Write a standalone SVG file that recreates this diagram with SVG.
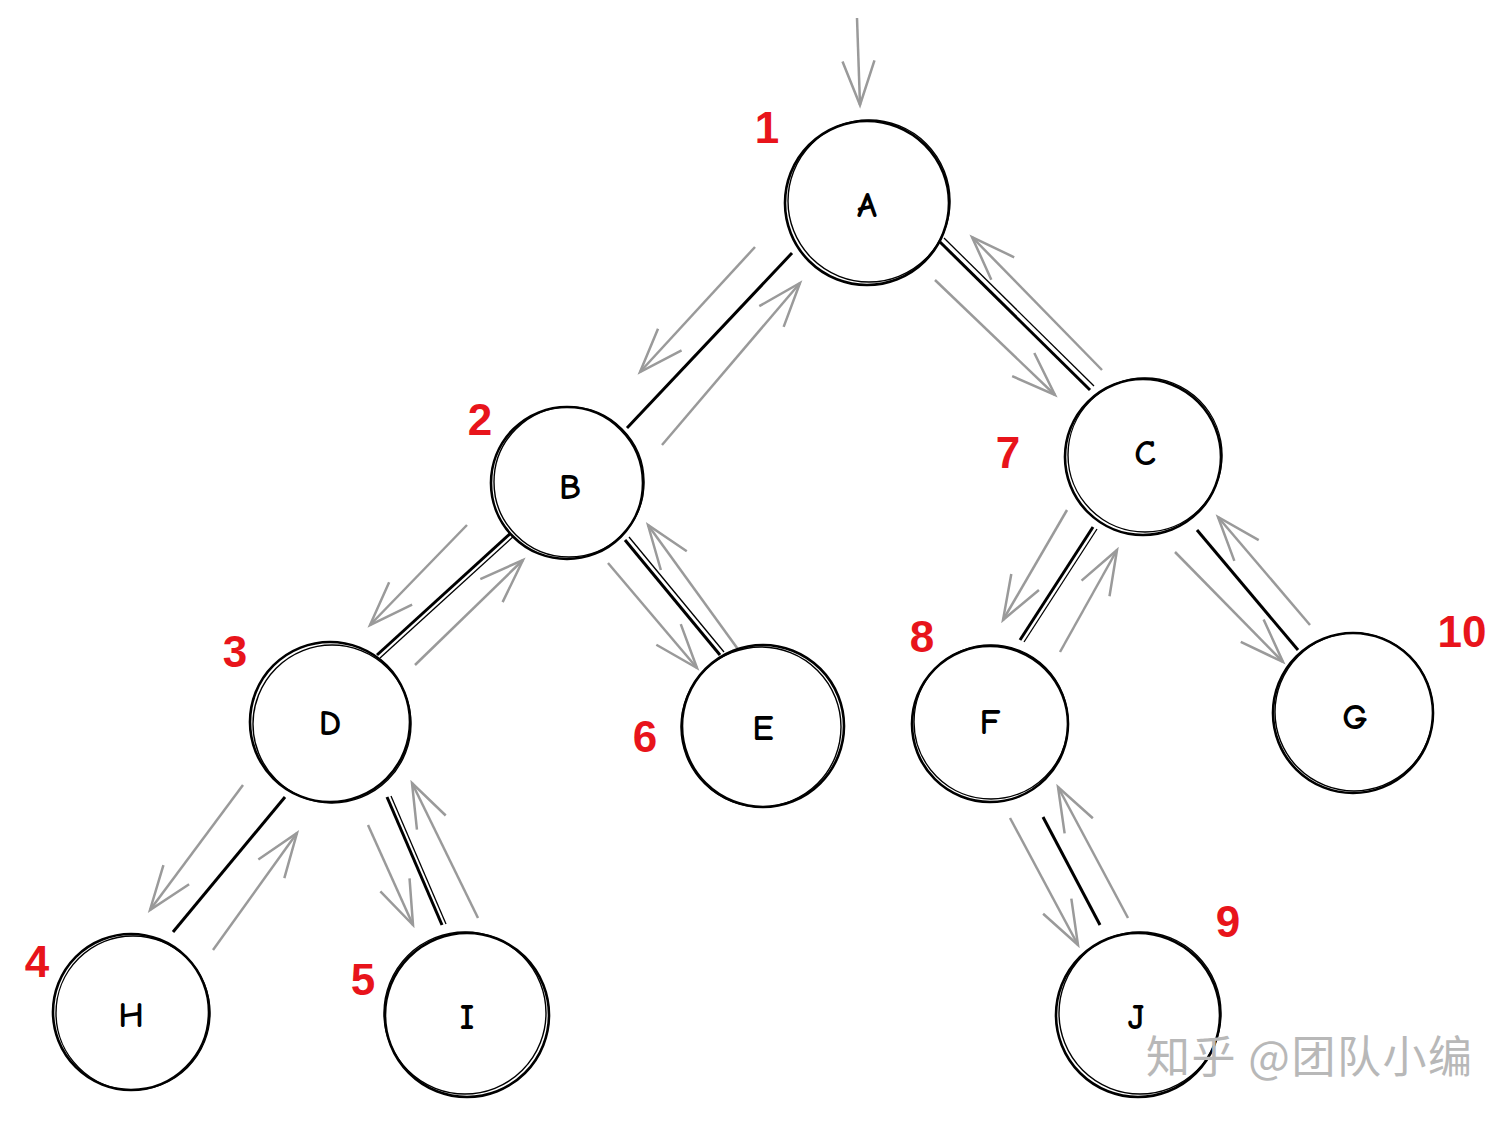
<svg xmlns="http://www.w3.org/2000/svg" width="1512" height="1121" viewBox="0 0 1512 1121">
<style>
.c1{fill:#fff;stroke:#000;stroke-width:2.6}
.c2{fill:none;stroke:#000;stroke-width:1.4}
.lb{font-family:"Comic Neue","Liberation Sans",sans-serif;font-size:36px;font-weight:bold;text-anchor:middle;dominant-baseline:central;fill:#000}
.num{font-family:"Liberation Sans",sans-serif;font-size:44px;font-weight:bold;text-anchor:middle;fill:#e8141b}
.edge{stroke:#000;stroke-width:3;fill:none}
.edge2{stroke:#000;stroke-width:1.3;fill:none}
.arr{stroke:#9a9a9a;stroke-width:2.5;fill:none;marker-end:url(#ah)}
.wm{font-family:"Noto Sans CJK SC",sans-serif;font-size:44px;letter-spacing:1.5px;fill:#b8b8b8}
</style>
<defs>
<marker id="ah" markerUnits="userSpaceOnUse" markerWidth="60" markerHeight="40" viewBox="-50 -20 55 40" refX="0" refY="0" orient="auto">
<path d="M-44,-16 L0,0 L-44,16" fill="none" stroke="#9a9a9a" stroke-width="2.5"/>
</marker>
</defs>
<rect width="1512" height="1121" fill="#fff"/>
<g id="connectors">
<line class="edge" x1="792" y1="253" x2="627" y2="428"/>
<line class="edge" x1="940" y1="242" x2="1090" y2="390"/><line class="edge2" x1="944" y1="238" x2="1094" y2="386"/>
<line class="edge" x1="512" y1="532" x2="377" y2="655"/><line class="edge2" x1="515" y1="535" x2="380" y2="658"/>
<line class="edge" x1="625" y1="540" x2="720" y2="655"/><line class="edge2" x1="629" y1="537" x2="724" y2="652"/>
<line class="edge" x1="1093" y1="527" x2="1020" y2="640"/><line class="edge2" x1="1097" y1="529" x2="1024" y2="642"/>
<line class="edge" x1="1197" y1="530" x2="1298" y2="650"/>
<line class="edge" x1="285" y1="797" x2="173" y2="932"/>
<line class="edge" x1="387" y1="797" x2="442" y2="925"/><line class="edge2" x1="391" y1="796" x2="446" y2="924"/>
<line class="edge" x1="1043" y1="817" x2="1100" y2="925"/>
<line class="arr" x1="857" y1="18" x2="860" y2="105"/>
<line class="arr" x1="755" y1="247" x2="640" y2="372"/>
<line class="arr" x1="662" y1="445" x2="800" y2="283"/>
<line class="arr" x1="935" y1="280" x2="1055" y2="395"/>
<line class="arr" x1="1102" y1="370" x2="972" y2="237"/>
<line class="arr" x1="467" y1="525" x2="370" y2="625"/>
<line class="arr" x1="415" y1="665" x2="523" y2="560"/>
<line class="arr" x1="608" y1="563" x2="697" y2="668"/>
<line class="arr" x1="740" y1="652" x2="648" y2="525"/>
<line class="arr" x1="1067" y1="510" x2="1003" y2="620"/>
<line class="arr" x1="1060" y1="652" x2="1117" y2="550"/>
<line class="arr" x1="1175" y1="552" x2="1283" y2="662"/>
<line class="arr" x1="1310" y1="625" x2="1218" y2="517"/>
<line class="arr" x1="243" y1="785" x2="150" y2="910"/>
<line class="arr" x1="213" y1="950" x2="297" y2="833"/>
<line class="arr" x1="368" y1="825" x2="413" y2="925"/>
<line class="arr" x1="478" y1="918" x2="412" y2="783"/>
<line class="arr" x1="1010" y1="818" x2="1078" y2="945"/>
<line class="arr" x1="1128" y1="918" x2="1058" y2="787"/>
</g>
<g id="node-A"><circle class="c1" cx="867" cy="203" r="82"/><circle class="c2" cx="869" cy="201" r="81"/><text class="lb" x="867" y="205">A</text></g>
<g id="node-B"><circle class="c1" cx="567" cy="483" r="76"/><circle class="c2" cx="569" cy="482" r="75"/><text class="lb" x="570" y="487">B</text></g>
<g id="node-C"><circle class="c1" cx="1143" cy="457" r="78"/><circle class="c2" cx="1145" cy="455" r="77"/><text class="lb" x="1145" y="453">C</text></g>
<g id="node-D"><circle class="c1" cx="330" cy="722" r="80"/><circle class="c2" cx="332" cy="724" r="79"/><text class="lb" x="330" y="723">D</text></g>
<g id="node-E"><circle class="c1" cx="763" cy="726" r="81"/><circle class="c2" cx="761" cy="727" r="80"/><text class="lb" x="763" y="728">E</text></g>
<g id="node-F"><circle class="c1" cx="990" cy="724" r="78"/><circle class="c2" cx="991" cy="722" r="77"/><text class="lb" x="990" y="722">F</text></g>
<g id="node-G"><circle class="c1" cx="1353" cy="713" r="80"/><circle class="c2" cx="1354" cy="712" r="79"/><text class="lb" x="1355" y="717">G</text></g>
<g id="node-H"><circle class="c1" cx="131" cy="1012" r="78"/><circle class="c2" cx="133" cy="1013" r="77"/><text class="lb" x="131" y="1015">H</text></g>
<g id="node-I"><circle class="c1" cx="467" cy="1015" r="82"/><circle class="c2" cx="465" cy="1013" r="81"/><text class="lb" x="467" y="1017">I</text></g>
<g id="node-J"><circle class="c1" cx="1138" cy="1015" r="82"/><circle class="c2" cx="1140" cy="1013" r="81"/><text class="lb" x="1136" y="1017">J</text></g>
<g id="numbers">
<text class="num" x="767" y="143">1</text>
<text class="num" x="480" y="435">2</text>
<text class="num" x="235" y="667">3</text>
<text class="num" x="37" y="977">4</text>
<text class="num" x="363" y="995">5</text>
<text class="num" x="645" y="752">6</text>
<text class="num" x="1008" y="468">7</text>
<text class="num" x="922" y="652">8</text>
<text class="num" x="1228" y="937">9</text>
<text class="num" x="1462" y="647">10</text>
</g>
<text class="wm" x="1146" y="1073">知乎 @团队小编</text>
</svg>
